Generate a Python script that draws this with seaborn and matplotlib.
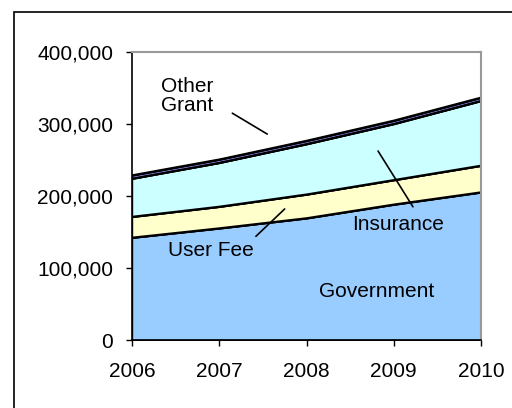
import matplotlib
matplotlib.use("Agg")
import matplotlib.pyplot as plt
from matplotlib.patches import Rectangle
import seaborn as sns
import numpy as np

years = [2006, 2007, 2008, 2009, 2010]
government = [142000, 155000, 169000, 188000, 205000]
user_fee = [29000, 30000, 33000, 34000, 37000]
insurance = [53000, 61000, 70000, 78000, 90000]
grant = [4500, 4500, 4500, 4500, 4500]
other = [1500, 1500, 1500, 1500, 1500]

series = [government, user_fee, insurance, grant, other]
colors = ["#99CCFF", "#FFFFCC", "#CCFFFF", "#9999FF", "#000000"]

sns.set_theme(style="white")
plt.rcParams["font.family"] = ["Liberation Sans", "DejaVu Sans"]
plt.rcParams["text.color"] = "black"

fig = plt.figure(figsize=(5.12, 4.08), dpi=100)
ax = fig.add_axes([132 / 512, 1 - 340 / 408, (481 - 132) / 512, (340 - 52) / 408])

ax.stackplot(years, *series, colors=colors, edgecolor="black", linewidth=1.0)

# outline the main cumulative boundaries with seaborn lines
cum = np.cumsum(np.array(series), axis=0)
for top in cum[:3]:
    sns.lineplot(x=years, y=top, ax=ax, color="black", linewidth=1.6)

ax.set_xlim(2006, 2010)
ax.set_ylim(0, 400000)
ax.set_xticks(years)
ax.set_xticklabels([str(y) for y in years])
ax.set_yticks([0, 100000, 200000, 300000, 400000])
ax.set_yticklabels(["0", "100,000", "200,000", "300,000", "400,000"])
ax.tick_params(axis="both", labelsize=15, colors="black", labelcolor="black",
               length=4.5, width=1, direction="out", left=True, bottom=True)
ax.tick_params(axis="x", pad=11)
ax.tick_params(axis="y", pad=9)

for side in ["left", "bottom"]:
    ax.spines[side].set_color("black")
    ax.spines[side].set_linewidth(1.2)
for side in ["top", "right"]:
    ax.spines[side].set_color("#999999")
    ax.spines[side].set_linewidth(1.5)
ax.set_facecolor("white")
ax.grid(False)

fs = 15
ax.text(2006.33, 339000, "Other\nGrant", fontsize=fs, ha="left", va="center",
        linespacing=1.0, color="black")
ax.plot([2007.15, 2007.55], [315000, 286000], color="black", lw=1.2)

ax.text(2006.41, 125000, "User Fee", fontsize=fs, ha="left", va="center",
        color="black")
ax.plot([2007.42, 2007.75], [144000, 182000], color="black", lw=1.2)

ax.text(2008.52, 161000, "Insurance", fontsize=fs, ha="left", va="center",
        color="black")
ax.plot([2008.82, 2009.22], [262500, 185000], color="black", lw=1.2)

ax.text(2008.80, 68000, "Government", fontsize=fs, ha="center", va="center",
        color="black")

# chart frame
fig.patches.append(Rectangle((14 / 512, -0.05), 1.2, 1 - 12 / 408 + 0.05,
                             transform=fig.transFigure, fill=False,
                             edgecolor="black", linewidth=1.2))

fig.savefig("out.png", dpi=100)
